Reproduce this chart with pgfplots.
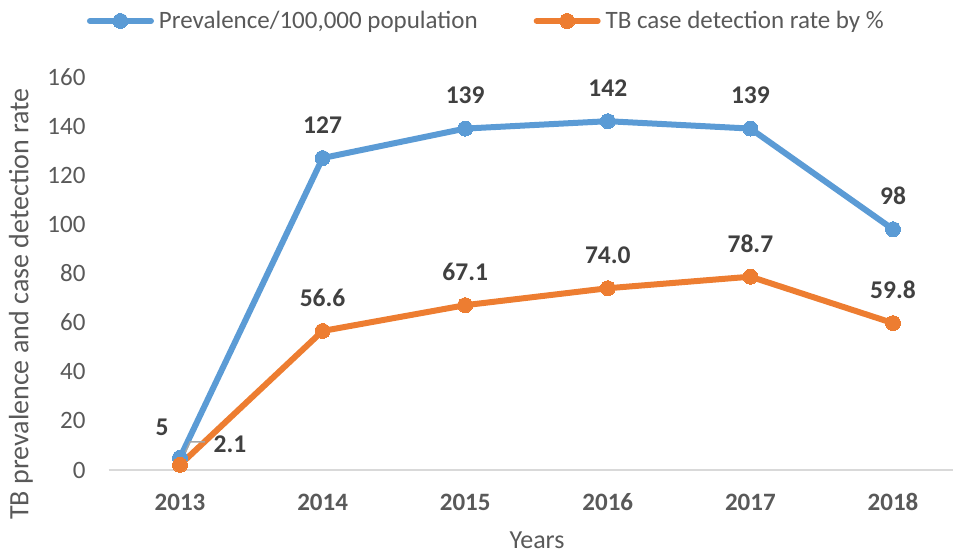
\documentclass[border=0pt]{standalone}
\usepackage{pgfplots}
\pgfplotsset{compat=1.18}
\usepackage{pgfplotstable}
\usepackage{fontspec}
\setmainfont{Carlito}
\definecolor{serblue}{HTML}{5B9BD5}
\definecolor{serorange}{HTML}{ED7D31}
\definecolor{axisgray}{HTML}{D9D9D9}
\definecolor{labgray}{HTML}{595959}
\definecolor{datgray}{HTML}{404040}
\definecolor{leadgray}{HTML}{A6A6A6}

\pgfplotstableread{
x y lab dx dy
0 5 5 -18 30
1 127 127 0 33
2 139 139 0 33
3 142 142 0 33
4 139 139 0 33
5 98 98 0 33
}\prevtab

\pgfplotstableread{
x y lab dx dy
0 2.1 2.1 50 21
1 56.6 56.6 0 33
2 67.1 67.1 0 33
3 74.0 74.0 0 33
4 78.7 78.7 0 33
5 59.8 59.8 0 33
}\cdrtab

\begin{document}
\begin{tikzpicture}[x=1pt,y=1pt]
\useasboundingbox (0,0) rectangle (953,554);
\begin{axis}[
  at={(108.7pt,84pt)}, anchor=south west,
  scale only axis, width=855.6pt, height=393pt,
  xmin=-0.5, xmax=5.5, ymin=0, ymax=160,
  clip=false,
  axis lines*=left,
  x axis line style={draw=axisgray, line width=2pt, -},
  y axis line style={draw=none},
  major tick length=0pt,
  xtick={0,1,2,3,4,5},
  xticklabels={2013,2014,2015,2016,2017,2018},
  ytick={0,20,...,160},
  /pgf/number format/assume math mode=true,
  tick label style={font=\fontsize{25}{30}\selectfont, text=labgray},
  xticklabel style={font=\fontsize{25}{30}\selectfont\bfseries, anchor=base, yshift=-41pt},
  yticklabel style={anchor=east, inner sep=0pt, xshift=-23pt},
  legend columns=2,
  legend style={draw=none, fill=none, at={(-0.0254,1.1425)}, anchor=west,
    inner sep=0pt, outer sep=0pt,
    nodes={inner sep=0pt, text=labgray, font=\fontsize{25}{30}\selectfont},
    /tikz/column 1/.style={column sep=5pt},
    /tikz/column 2/.style={column sep=56pt},
    /tikz/column 3/.style={column sep=5pt}},
  legend image code/.code={\draw[mark repeat=2,mark phase=2,#1] plot coordinates {(0pt,0pt) (30.5pt,0pt) (61pt,0pt)};},
  every axis plot/.append style={line width=6pt, line join=round, line cap=round},
  point meta=explicit symbolic,
  nodes near coords,
  nodes near coords style={font=\fontsize{25.5}{30}\selectfont\bfseries, text=datgray, anchor=center, xshift=\dx pt, yshift=\dy pt},
  visualization depends on={\thisrow{dx} \as \dx},
  visualization depends on={\thisrow{dy} \as \dy},
]
\addplot[color=serblue, mark=*, mark size=7.5pt, mark options={solid, fill=serblue, draw=serblue, line width=0pt}]
  table[x=x, y=y, meta=lab] {\prevtab};
\addlegendentry{Prevalence/100,000 population}
\addplot[color=serorange, mark=*, mark size=7.5pt, mark options={solid, fill=serorange, draw=serorange, line width=0pt}]
  table[x=x, y=y, meta=lab] {\cdrtab};
\addlegendentry{TB case detection rate by \%}
\draw[leadgray, line width=1.5pt] (axis cs:0,2.1) -- (axis cs:0.07,11.4) -- (axis cs:0.175,11.4);
\end{axis}
\node[rotate=90, font=\fontsize{28}{32}\selectfont, text=labgray] at (21,250) {TB prevalence and case detection rate};
\node[anchor=base, font=\fontsize{26}{30}\selectfont, text=labgray] at (537,5) {Years};
\end{tikzpicture}
\end{document}
